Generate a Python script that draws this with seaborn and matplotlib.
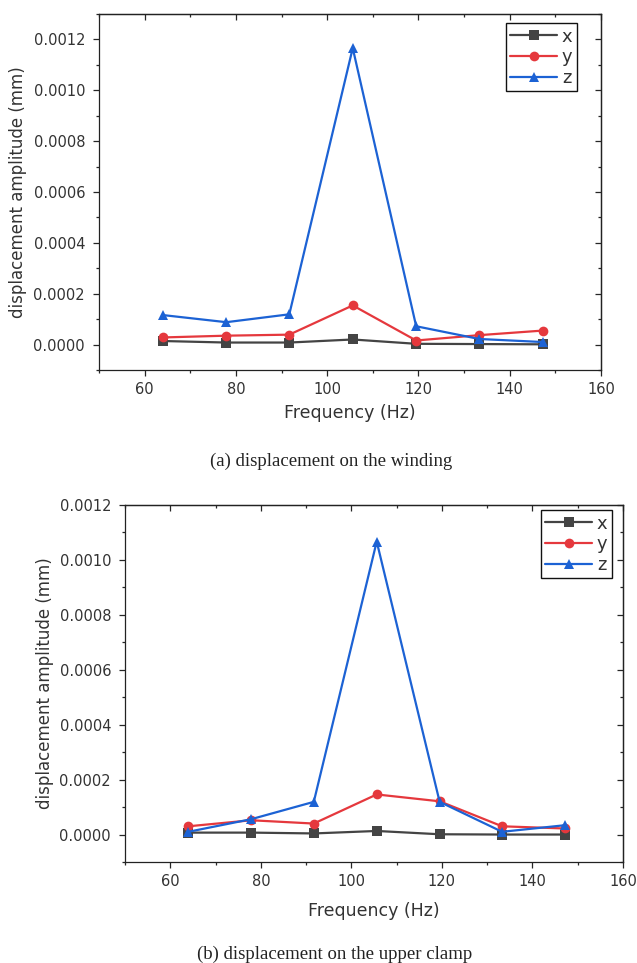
import matplotlib
matplotlib.use("Agg")
import matplotlib.pyplot as plt
from matplotlib.ticker import MultipleLocator, FormatStrFormatter
import seaborn as sns
import pandas as pd

# ---- data ----
freq = [64.0, 77.9, 91.7, 105.6, 119.5, 133.3, 147.2]
series_names = ["x", "y", "z"]

winding_x = [1.4e-5, 0.8e-5, 0.8e-5, 2.0e-5, 0.3e-5, 0.2e-5, 0.1e-5]
winding_y = [2.8e-5, 3.5e-5, 3.9e-5, 1.54e-4, 1.6e-5, 3.7e-5, 5.5e-5]
winding_z = [1.16e-4, 8.8e-5, 1.19e-4, 1.166e-3, 7.2e-5, 2.2e-5, 1.0e-5]

clamp_x = [0.7e-5, 0.7e-5, 0.4e-5, 1.3e-5, 0.1e-5, 0.0, 0.0]
clamp_y = [3.0e-5, 5.2e-5, 4.0e-5, 1.46e-4, 1.21e-4, 3.0e-5, 2.2e-5]
clamp_z = [1.0e-5, 5.6e-5, 1.19e-4, 1.067e-3, 1.19e-4, 1.0e-5, 3.4e-5]

captions = ["(a) displacement on the winding", "(b) displacement on the upper clamp"]
xlabel = "Frequency (Hz)"
ylabel = "displacement amplitude (mm)"

colors = {"x": "#444444", "y": "#e5383d", "z": "#1c62d4"}
markers = {"x": "s", "y": "o", "z": "^"}


def long_df(xs, ys, zs):
    rows = []
    for name, vals in zip(series_names, [xs, ys, zs]):
        for f, v in zip(freq, vals):
            rows.append({"freq": f, "amp": v, "axis": name})
    return pd.DataFrame(rows)


sns.set_style("ticks")
plt.rcParams["font.family"] = ["DejaVu Sans"]
plt.rcParams["axes.linewidth"] = 0.9

fig = plt.figure(figsize=(6.37, 9.63), dpi=100)
W, H = 637.0, 963.0

panels = [
    dict(box=(99, 601, 14, 370), ylim=(-0.0001, 0.0013), data=(winding_x, winding_y, winding_z),
         leg=((577 - 99) / 502.0, (370 - 23) / 356.0), cap=(331, 461), xl=-0.095),
    dict(box=(125, 623, 505, 862), ylim=(-0.0001, 0.0012), data=(clamp_x, clamp_y, clamp_z),
         leg=((612 - 125) / 498.0, (862 - 510) / 357.0), cap=(335, 954), xl=-0.112),
]

text_color = "#333333"

for i, p in enumerate(panels):
    l, r, t, b = p["box"]
    ax = fig.add_axes([l / W, 1 - b / H, (r - l) / W, (b - t) / H])
    df = long_df(*p["data"])
    sns.lineplot(data=df, x="freq", y="amp", hue="axis", style="axis",
                 palette=colors, markers=markers, dashes=False,
                 linewidth=1.6, markersize=7, markeredgewidth=0,
                 ax=ax, legend=True)
    ax.set_xlim(50, 160)
    ax.set_ylim(*p["ylim"])
    ax.xaxis.set_major_locator(MultipleLocator(20))
    ax.xaxis.set_minor_locator(MultipleLocator(10))
    ax.yaxis.set_major_locator(MultipleLocator(0.0002))
    ax.yaxis.set_minor_locator(MultipleLocator(0.0001))
    ax.yaxis.set_major_formatter(FormatStrFormatter("%.4f"))
    ax.tick_params(which="major", direction="out", length=4, width=0.9,
                   labelsize=10.5, labelcolor=text_color, pad=5)
    ax.tick_params(which="minor", direction="out", length=2.5, width=0.9)
    ax.tick_params(axis="y", which="major", pad=6)
    for s in ax.spines.values():
        s.set_visible(True)
        s.set_color("#222222")

    sx = ax.secondary_xaxis("top")
    sx.xaxis.set_major_locator(MultipleLocator(20))
    sx.xaxis.set_minor_locator(MultipleLocator(10))
    sx.tick_params(which="major", direction="in", length=4, width=0.9, labeltop=False)
    sx.tick_params(which="minor", direction="in", length=2.5, width=0.9)
    sy = ax.secondary_yaxis("right")
    sy.yaxis.set_major_locator(MultipleLocator(0.0002))
    sy.yaxis.set_minor_locator(MultipleLocator(0.0001))
    sy.tick_params(which="major", direction="in", length=4, width=0.9, labelright=False)
    sy.tick_params(which="minor", direction="in", length=2.5, width=0.9)

    ax.set_xlabel(xlabel, fontsize=12.5, color=text_color)
    ax.set_ylabel(ylabel, fontsize=12, color=text_color)
    ax.xaxis.set_label_coords(0.5, p["xl"])
    ax.yaxis.set_label_coords(-0.143, 0.5)

    handles, labels = ax.get_legend_handles_labels()
    leg = ax.legend(handles, labels, loc="upper right", bbox_to_anchor=p["leg"],
                    fontsize=13, frameon=True, fancybox=False, framealpha=1,
                    edgecolor="#111111", handlelength=2.6, handletextpad=0.25,
                    borderpad=0.25, labelspacing=0.15, borderaxespad=0)
    leg.get_frame().set_linewidth(1.0)
    for txt in leg.get_texts():
        txt.set_color(text_color)

    fig.text(p["cap"][0] / W, 1 - p["cap"][1] / H, captions[i], ha="center", va="center",
             fontsize=13.5, family="Liberation Serif", color="#222222")

fig.savefig("out.png", dpi=100)
